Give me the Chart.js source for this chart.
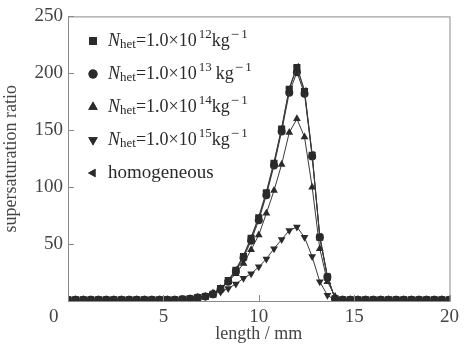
<!DOCTYPE html>
<html>
<head>
<meta charset="utf-8">
<script src="https://cdn.jsdelivr.net/npm/chart.js@4"></script>
<style>
    html, body { margin: 0; padding: 0; background: #fff; }
    #wrap { width: 464px; height: 345px; }
</style>
</head>
<body>
<div id="wrap"><canvas id="ssChart" width="464" height="345"></canvas></div>
<script>
// length along the nozzle, mm
const lengthMm = [
    0, 0.4, 0.8, 1.2, 1.6, 2.0, 2.4, 2.8, 3.2, 3.6,
    4.0, 4.4, 4.8, 5.2, 5.6, 6.0, 6.4, 6.8, 7.2, 7.6,
    8.0, 8.4, 8.8, 9.2, 9.6, 10.0, 10.4, 10.8, 11.2, 11.6,
    12.0, 12.4, 12.8, 13.2, 13.6, 14.0, 14.4, 14.8, 15.2, 15.6,
    16.0, 16.4, 16.8, 17.2, 17.6, 18.0, 18.4, 18.8, 19.2, 19.6, 20.0
];

// supersaturation ratio for each case
const het12 = [
    1, 1, 1, 1, 1, 1, 1, 1, 1, 1,
    1, 1, 1, 1, 1, 1.5, 2, 3, 4, 6,
    11, 18, 27, 39, 55, 73, 95, 121, 151, 186,
    205, 184, 128, 56, 21, 2, 1, 1, 1, 1,
    1, 1, 1, 1, 1, 1, 1, 1, 1, 1, 1
];
const het13 = [
    1, 1, 1, 1, 1, 1, 1, 1, 1, 1,
    1, 1, 1, 1, 1, 1.5, 2, 3, 4, 6,
    10, 17, 26, 38, 53, 71, 93, 119, 149, 183,
    201, 182, 127, 56, 21, 2, 1, 1, 1, 1,
    1, 1, 1, 1, 1, 1, 1, 1, 1, 1, 1
];
const het14 = [
    1, 1, 1, 1, 1, 1, 1, 1, 1, 1,
    1, 1, 1, 1, 1, 1.5, 2, 3, 4, 7,
    11, 17, 24, 33, 45, 58, 77, 97, 120, 148,
    160, 144, 100, 46, 17, 4, 1, 1, 1, 1,
    1, 1, 1, 1, 1, 1, 1, 1, 1, 1, 1
];
const het15 = [
    1, 1, 1, 1, 1, 1, 1, 1, 1, 1,
    1, 1, 1, 1, 1, 1.5, 2, 2.5, 4, 6,
    8, 11, 15, 20, 24, 30, 37, 46, 54, 62,
    65, 56, 39, 17, 5, 1, 1, 1, 1, 1,
    1, 1, 1, 1, 1, 1, 1, 1, 1, 1, 1
];
const homogeneous = [
    1, 1, 1, 1, 1, 1, 1, 1, 1, 1,
    1, 1, 1, 1, 1, 1.5, 2, 3, 4, 7,
    11, 18, 28, 40, 56, 74, 96, 122, 152, 187,
    206, 185, 129, 57, 22, 2, 1, 1, 1, 1,
    1, 1, 1, 1, 1, 1, 1, 1, 1, 1, 1
];

const xTicks = [0, 5, 10, 15, 20];
const yTicks = [0, 50, 100, 150, 200, 250];

const serif = '"Liberation Serif", "DejaVu Serif", serif';
const ink = '#2a2a2a';

// legend rows: marker + rich text pieces
const legendRows = [
    { style: 'rect', radius: 5.5, rotation: 0, exp: '12', gap: 0 },
    { style: 'circle', radius: 4.5, rotation: 0, exp: '13', gap: 4 },
    { style: 'triangle', radius: 5.5, rotation: 0, exp: '14', gap: 0 },
    { style: 'triangle', radius: 5.5, rotation: 180, exp: '15', gap: 0 },
    { style: 'triangle', radius: 5, rotation: -90, exp: null, gap: 0 }
];

function pairs(ys) {
    return lengthMm.map((x, i) => ({ x: x, y: ys[i] }));
}

function makeSet(label, ys, style, radius, rotation) {
    return {
        label: label,
        data: pairs(ys),
        borderColor: '#3a3a3a',
        borderWidth: 1,
        backgroundColor: ink,
        pointStyle: style,
        pointRadius: radius,
        pointRotation: rotation,
        pointBorderWidth: 0,
        pointBackgroundColor: ink,
        tension: 0,
        fill: false
    };
}

function drawRich(ctx, x, y, parts) {
    let cx = x;
    parts.forEach(p => {
        cx += p.pre || 0;
        ctx.font = p.font;
        ctx.fillText(p.t, cx, y + (p.dy || 0));
        cx += ctx.measureText(p.t).width;
    });
}

const framePlugin = {
    id: 'frame',
    afterDraw(chart) {
        const ctx = chart.ctx;
        const a = chart.chartArea;
        const xs = chart.scales.x;
        const ys = chart.scales.y;
        ctx.save();
        ctx.strokeStyle = '#8a8a8a';
        ctx.lineWidth = 1;
        ctx.strokeRect(a.left + 0.5, a.top + 0.5, a.right - a.left, a.bottom - a.top);
        // inner tick marks
        ctx.beginPath();
        xTicks.forEach(v => {
            const px = Math.round(xs.getPixelForValue(v)) + 0.5;
            ctx.moveTo(px, a.bottom);
            ctx.lineTo(px, a.bottom - 6);
        });
        yTicks.forEach(v => {
            const py = Math.round(ys.getPixelForValue(v)) + 0.5;
            ctx.moveTo(a.left, py);
            ctx.lineTo(a.left + 6, py);
        });
        ctx.stroke();

        // legend
        ctx.fillStyle = ink;
        ctx.textBaseline = 'middle';
        ctx.textAlign = 'left';
        legendRows.forEach((row, i) => {
            const my = 41 + i * 33;
            Chart.helpers.drawPoint(ctx, {
                pointStyle: row.style,
                radius: row.radius,
                rotation: row.rotation,
                borderWidth: 0
            }, 93, my);
            ctx.fill();
            let parts;
            if (row.exp) {
                parts = [
                    { t: 'N', font: 'italic 18px ' + serif },
                    { t: 'het', font: '13px ' + serif, dy: 4 },
                    { t: '=1.0×10', font: '18px ' + serif },
                    { t: row.exp, font: '13px ' + serif, dy: -6, pre: 2 },
                    { t: 'kg', font: '18px ' + serif, pre: row.gap },
                    { t: '−', font: '15px ' + serif, dy: -6, pre: 1 },
                    { t: '1', font: '13px ' + serif, dy: -6, pre: 2 }
                ];
            } else {
                parts = [{ t: 'homogeneous', font: '19px ' + serif }];
            }
            drawRich(ctx, 108, my, parts);
        });
        ctx.restore();
    }
};

const chart = new Chart(document.getElementById('ssChart'), {
    type: 'line',
    data: {
        datasets: [
            makeSet('Nhet=1.0×10^12 kg^-1', het12, 'rect', 5, 0),
            makeSet('Nhet=1.0×10^13 kg^-1', het13, 'circle', 4, 0),
            makeSet('Nhet=1.0×10^14 kg^-1', het14, 'triangle', 4.5, 0),
            makeSet('Nhet=1.0×10^15 kg^-1', het15, 'triangle', 4.5, 180),
            makeSet('homogeneous', homogeneous, 'triangle', 4, -90)
        ]
    },
    options: {
        responsive: false,
        animation: false,
        layout: { padding: { left: 0, right: 10, top: 15, bottom: 0 } },
        plugins: {
            legend: { display: false },
            tooltip: { enabled: false }
        },
        scales: {
            x: {
                type: 'linear',
                min: 0,
                max: 20,
                afterBuildTicks: s => { s.ticks = xTicks.map(v => ({ value: v })); },
                afterFit: s => { s.height = 44; },
                grid: { display: false, drawTicks: false },
                border: { display: false },
                ticks: {
                    color: '#444',
                    padding: 5,
                    maxRotation: 0,
                    font: { family: serif, size: 19 },
                    callback: v => (v === 0 ? '0      ' : v)
                },
                title: {
                    display: true,
                    text: 'length / mm',
                    color: '#444',
                    padding: { top: 0, bottom: 0 },
                    font: { family: serif, size: 18 }
                }
            },
            y: {
                min: 0,
                max: 250,
                afterBuildTicks: s => { s.ticks = yTicks.map(v => ({ value: v })); },
                afterFit: s => { s.width = 68; },
                grid: { display: false, drawTicks: false },
                border: { display: false },
                ticks: {
                    color: '#444',
                    padding: 5,
                    font: { family: serif, size: 19 },
                    callback: v => (v === 0 ? '' : v)
                },
                title: {
                    display: true,
                    text: 'supersaturation ratio',
                    color: '#444',
                    padding: { top: 0, bottom: 0 },
                    font: { family: serif, size: 18 }
                }
            }
        }
    },
    plugins: [framePlugin]
});
</script>
</body>
</html>
